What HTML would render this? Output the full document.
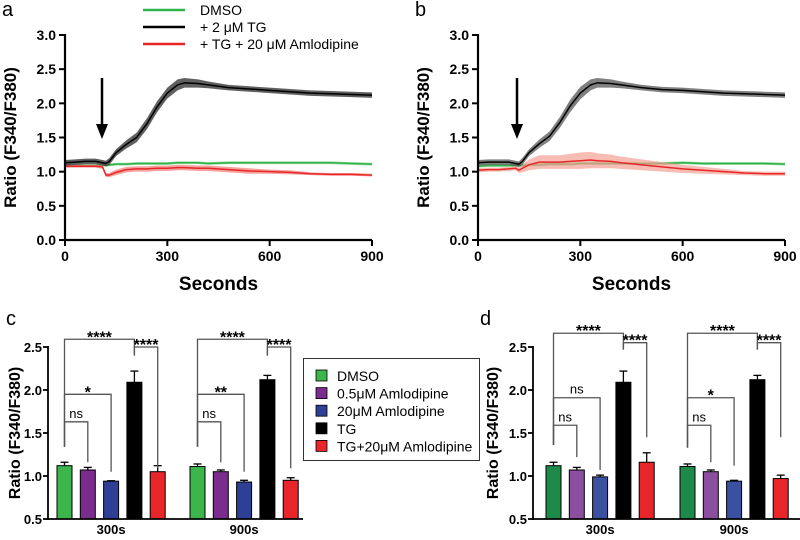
<!DOCTYPE html>
<html><head><meta charset="utf-8"><style>
html,body{margin:0;padding:0;background:#fff;}
svg{display:block;font-family:"Liberation Sans",Arial,sans-serif;}
</style></head><body>
<svg id="fig" width="800" height="540" viewBox="0 0 800 540" xmlns="http://www.w3.org/2000/svg"></svg>
<script>
// ---- line chart data ----
const times = [0,30,60,90,110,120,130,150,180,210,240,270,300,330,350,390,420,480,540,600,660,720,780,840,900];
const aBlack = [1.13,1.14,1.15,1.15,1.13,1.12,1.15,1.28,1.40,1.50,1.70,1.95,2.15,2.27,2.30,2.29,2.27,2.23,2.21,2.19,2.17,2.15,2.14,2.13,2.12];
const aBlackErr = [0.04,0.04,0.04,0.04,0.04,0.04,0.05,0.05,0.06,0.07,0.08,0.08,0.08,0.08,0.07,0.06,0.05,0.04,0.04,0.04,0.04,0.04,0.04,0.04,0.04];
const aGreen = [1.09,1.09,1.09,1.09,1.10,1.09,1.10,1.11,1.11,1.12,1.12,1.12,1.12,1.13,1.13,1.13,1.12,1.13,1.13,1.13,1.13,1.13,1.13,1.12,1.11];
const aGreenErr = [0.02,0.02,0.02,0.02,0.02,0.02,0.02,0.02,0.02,0.02,0.02,0.02,0.02,0.02,0.02,0.02,0.02,0.02,0.02,0.02,0.02,0.02,0.02,0.02,0.02];
const aRed = [1.08,1.08,1.08,1.08,1.07,0.95,0.95,0.99,1.03,1.04,1.04,1.05,1.05,1.06,1.06,1.05,1.05,1.03,1.01,1.00,0.99,0.97,0.96,0.96,0.95];
const aRedErr = [0.02,0.02,0.02,0.02,0.03,0.03,0.03,0.04,0.04,0.04,0.04,0.04,0.04,0.04,0.04,0.04,0.04,0.04,0.04,0.03,0.03,0.02,0.02,0.02,0.02];
const bBlack = [1.13,1.14,1.14,1.14,1.12,1.11,1.15,1.28,1.41,1.52,1.72,1.96,2.15,2.27,2.30,2.29,2.27,2.23,2.20,2.19,2.17,2.15,2.14,2.13,2.12];
const bBlackErr = [0.04,0.04,0.04,0.04,0.04,0.04,0.05,0.05,0.06,0.07,0.08,0.09,0.09,0.08,0.07,0.06,0.05,0.04,0.04,0.04,0.04,0.04,0.04,0.04,0.04];
const bGreen = [1.08,1.09,1.09,1.09,1.09,1.09,1.09,1.10,1.10,1.11,1.11,1.11,1.12,1.12,1.12,1.12,1.12,1.12,1.12,1.13,1.12,1.12,1.12,1.12,1.11];
const bGreenErr = [0.02,0.02,0.02,0.02,0.02,0.02,0.02,0.02,0.02,0.02,0.02,0.02,0.02,0.02,0.02,0.02,0.02,0.02,0.02,0.02,0.02,0.02,0.02,0.02,0.02];
const bRed = [1.02,1.03,1.03,1.04,1.05,1.02,1.05,1.10,1.14,1.14,1.14,1.15,1.16,1.17,1.16,1.15,1.13,1.10,1.07,1.04,1.02,1.00,0.98,0.97,0.97];
const bRedErr = [0.03,0.03,0.03,0.03,0.03,0.04,0.06,0.08,0.10,0.10,0.10,0.11,0.12,0.12,0.11,0.10,0.09,0.08,0.07,0.06,0.05,0.04,0.03,0.03,0.03];
const lineYTicks = [0,0.5,1.0,1.5,2.0,2.5,3.0];
const lineXTicks = [0,300,600,900];
// ---- bar chart data ----
const barCategories = ["300s","900s"];
const barTicks = [0.5,1.0,1.5,2.0,2.5];
const legendLabels = ["DMSO","0.5\u03bcM Amlodipine","20\u03bcM Amlodipine","TG","TG+20\u03bcM Amlodipine"];
const cVals = [[1.12,1.07,0.94,2.09,1.05],[1.11,1.05,0.93,2.12,0.95]];
const cErrs = [[0.04,0.03,0.005,0.13,0.07],[0.03,0.02,0.02,0.05,0.03]];
const dVals = [[1.12,1.07,0.99,2.09,1.16],[1.11,1.05,0.94,2.12,0.97]];
const dErrs = [[0.04,0.03,0.02,0.13,0.11],[0.03,0.02,0.01,0.05,0.04]];
// brackets: [fromBar,toBar,level,leftLegBottom,rightLegBottom,label]
const cBrackets = [[[0,3,2.59,1.34,2.40,"****"],[3,4,2.50,2.40,1.09,"****"],[0,2,1.95,1.34,1.05,"*"],[0,1,1.63,1.34,1.16,"ns"]],
                   [[0,3,2.59,1.34,2.40,"****"],[3,4,2.50,2.40,1.09,"****"],[0,2,1.95,1.34,1.05,"**"],[0,1,1.63,1.34,1.16,"ns"]]];
const dBrackets = [[[0,3,2.66,1.36,2.47,"****"],[3,4,2.55,2.47,1.45,"****"],[0,2,1.91,1.36,1.07,"ns"],[0,1,1.59,1.36,1.22,"ns"]],
                   [[0,3,2.66,1.33,2.47,"****"],[3,4,2.55,2.47,1.45,"****"],[0,2,1.91,1.33,1.12,"*"],[0,1,1.59,1.33,1.16,"ns"]]];

const NS="http://www.w3.org/2000/svg";
const svg=document.getElementById('fig');
function el(tag,attrs,parent,text){const e=document.createElementNS(NS,tag);for(const k in attrs)e.setAttribute(k,attrs[k]);if(text!==undefined)e.textContent=text;(parent||svg).appendChild(e);return e;}

function lineChart(ox,ex,top,bot,series,name,letter,arrowX){
  const g=el('g',{});
  
  
  const X=t=>ox+(t/900)*(ex-ox), Y=v=>bot-(v/3)*(bot-top);
  const lt=el('text',{x:ox-63,y:16,'font-size':20},g,letter);
  
  
  lineYTicks.forEach(v=>{el('line',{x1:ox-6,x2:ox,y1:Y(v),y2:Y(v),stroke:'#000','stroke-width':2},g);
    const t=el('text',{x:ox-9,y:Y(v)+5,'font-size':14,'font-weight':'bold','text-anchor':'end'},g,v.toFixed(1));
    });
  lineXTicks.forEach(v=>{el('line',{x1:X(v),x2:X(v),y1:bot,y2:bot+6,stroke:'#000','stroke-width':2},g);
    const t=el('text',{x:X(v),y:bot+21,'font-size':14,'font-weight':'bold','text-anchor':'middle'},g,String(v));
    });
  series.forEach(s=>{
    const up=s.v.map((v,i)=>X(times[i])+','+Y(v+s.e[i])).join(' ');
    const dn=s.v.map((v,i)=>X(times[i])+','+Y(v-s.e[i])).reverse().join(' ');
    const band=el('polygon',{points:up+' '+dn,fill:s.band,opacity:s.op},g);
    
    const p=el('polyline',{points:s.v.map((v,i)=>X(times[i])+','+Y(v)).join(' '),fill:'none',stroke:s.c,'stroke-width':1.5},g);
    
  });
  el('line',{x1:ox,x2:ox,y1:top-1,y2:bot+1,stroke:'#000','stroke-width':2.2},g);
  el('line',{x1:ox-1,x2:ex,y1:bot,y2:bot,stroke:'#000','stroke-width':2.2},g);
  const ar=el('g',{},g);
  el('line',{x1:arrowX,x2:arrowX,y1:78,y2:128,stroke:'#000','stroke-width':2.5},ar);
  el('polygon',{points:`${arrowX-6},124 ${arrowX+6},124 ${arrowX},139`,fill:'#000'},ar);
  const yt=el('text',{transform:`translate(${ox-49},${(top+bot)/2}) rotate(-90)`,'font-size':17,'font-weight':'bold','text-anchor':'middle'},g,'Ratio (F340/F380)');
  
  const xt=el('text',{x:(ox+ex)/2,y:bot+50,'font-size':19,'font-weight':'bold','text-anchor':'middle'},g,'Seconds');
  
}
lineChart(65,372,35,240,[
 {v:aGreen,e:aGreenErr,c:'#2fb34a',band:'#7ad07f',op:0.8,name:'dmso'},
 {v:aRed,e:aRedErr,c:'#e8262a',band:'#f2837c',op:0.75,name:'tg-amlodipine'},
 {v:aBlack,e:aBlackErr,c:'#000',band:'#444',op:0.85,name:'tg'}],'chart-a','a',102);
lineChart(478,785,35,240,[
 {v:bGreen,e:bGreenErr,c:'#2fb34a',band:'#7ad07f',op:0.8,name:'dmso'},
 {v:bRed,e:bRedErr,c:'#e8262a',band:'#f4a093',op:0.7,name:'tg-amlodipine'},
 {v:bBlack,e:bBlackErr,c:'#000',band:'#555',op:0.75,name:'tg'}],'chart-b','b',517);

// top legend
const topLeg=el('g',{});
[['#2fb34a','DMSO'],['#000','+ 2 \u03bcM TG'],['#e8262a','+ TG + 20 \u03bcM Amlodipine']].forEach((d,i)=>{
  const y=10+i*17;
  el('line',{x1:143,x2:185,y1:y,y2:y,stroke:d[0],'stroke-width':2.5},topLeg);
  const t=el('text',{x:200,y:y+5,'font-size':14},topLeg,d[1]);
  
});

function barChart(ox,ex,top,bot,groupStarts,vals,errs,brackets,colors,name,letter,letterX,titleX){
  const g=el('g',{});
  const Y=v=>bot-(v-0.5)/2*(bot-top);
  const bw=15,step=23.3;
  const lt=el('text',{x:letterX,y:top-22,'font-size':20},g,letter);
  
  barTicks.forEach(v=>{el('line',{x1:ox-5,x2:ox,y1:Y(v),y2:Y(v),stroke:'#000','stroke-width':1.8},g);
    const t=el('text',{x:ox-6,y:Y(v)+5,'font-size':13,'font-weight':'bold','text-anchor':'end'},g,v.toFixed(1));
    });
  vals.forEach((gv,gi)=>{
    const cx=i=>groupStarts[gi]+i*step+bw/2;
    gv.forEach((v,i)=>{
      const x=groupStarts[gi]+i*step;
      const r=el('rect',{x:x,y:Y(v),width:bw,height:bot-Y(v),fill:colors[i],stroke:'#000','stroke-width':1},g);
      
      const e=errs[gi][i];
      el('line',{x1:cx(i),x2:cx(i),y1:Y(v),y2:Y(v+e),stroke:'#000','stroke-width':1.3},g);
      el('line',{x1:cx(i)-4,x2:cx(i)+4,y1:Y(v+e),y2:Y(v+e),stroke:'#000','stroke-width':1.3},g);
    });
    brackets[gi].forEach(b=>{
      const x1=cx(b[0]),x2=cx(b[1]),yl=Y(b[2]);
      const p=el('polyline',{points:`${x1},${Y(b[3])} ${x1},${yl} ${x2},${yl} ${x2},${Y(b[4])}`,fill:'none',stroke:'#555','stroke-width':1.3},g);
      
      const t=el('text',{x:(x1+x2)/2,y:yl-(b[5]==='ns'?4:-3),'font-size':b[5]==='ns'?13:16,'font-weight':b[5]==='ns'?'normal':'bold','text-anchor':'middle'},g,b[5]);
      
    });
    const t=el('text',{x:groupStarts[gi]+2*step+bw/2,y:bot+15,'font-size':13,'font-weight':'bold','text-anchor':'middle'},g,barCategories[gi]);
    
  });
  el('line',{x1:ox,x2:ox,y1:top-1,y2:bot+1,stroke:'#000','stroke-width':1.8},g);
  el('line',{x1:ox-1,x2:ex,y1:bot,y2:bot,stroke:'#000','stroke-width':1.8},g);
  const yt=el('text',{transform:`translate(${titleX},${(top+bot)/2}) rotate(-90)`,'font-size':16,'font-weight':'bold','text-anchor':'middle'},g,'Ratio (F340/F380)');
  
}
const cColors=['#3cb54a','#7b2d8e','#2e3f96','#000','#e8262a'];
const dColors=['#1e8a4a','#8c4e9e','#3a50a0','#000','#e8262a'];
barChart(48,303,347,519,[57,190],cVals,cErrs,cBrackets,cColors,'chart-c','c',6,20);
barChart(533,800,347,519,[546,680],dVals,dErrs,dBrackets,dColors,'chart-d','d',480,498);

// bar legend
const bl=el('g',{});
el('rect',{x:303.5,y:358.5,width:176,height:102,fill:'#fff',stroke:'#333','stroke-width':1},bl);
legendLabels.forEach((l,i)=>{
  const y=376+i*17.6;
  el('rect',{x:316,y:y-6,width:11,height:11,fill:cColors[i],stroke:'#000','stroke-width':0.8},bl);
  const t=el('text',{x:337,y:y+5,'font-size':14},bl,l);
  
});
</script>
</body></html>
